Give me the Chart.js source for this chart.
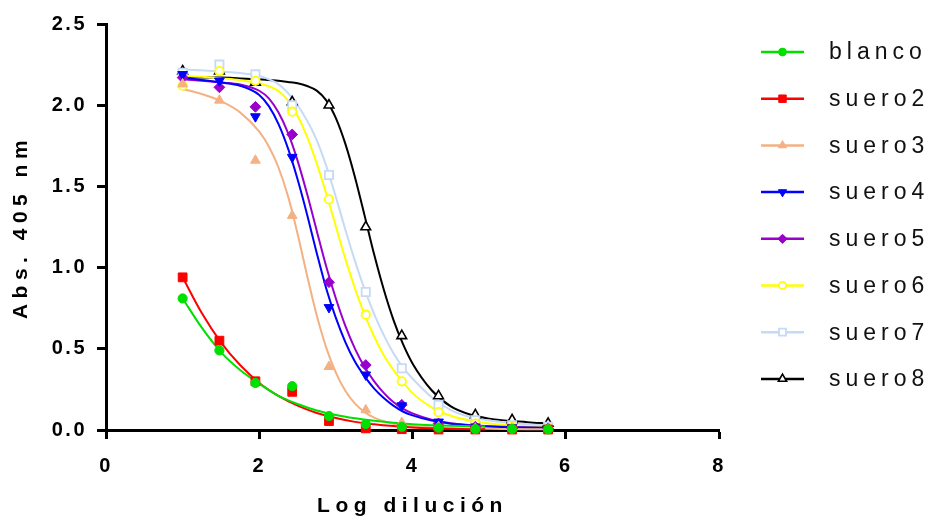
<!DOCTYPE html>
<html>
<head>
<meta charset="utf-8">
<script src="https://cdn.jsdelivr.net/npm/chart.js@4.4.0/dist/chart.umd.min.js"></script>
<style>
    html, body { margin: 0; padding: 0; background: #fff; }
</style>
</head>
<body>
<canvas id="grafico" width="928" height="522"></canvas>
<script>
// Datos medidos (puntos)
const logDilucion = [1.0, 1.48, 1.95, 2.43, 2.91, 3.39, 3.86, 4.34, 4.82, 5.30, 5.77];
const blanco = [0.81, 0.49, 0.29, 0.27, 0.086, 0.037, 0.02, 0.014, 0.006, 0.006, 0.004];
const suero2 = [0.94, 0.55, 0.30, 0.235, 0.055, 0.01, 0.005, 0.003, 0.003, 0.003, 0.003];
const suero3 = [2.13, 2.03, 1.66, 1.32, 0.39, 0.123, 0.045, 0.02, 0.01, 0.01, 0.005];
const suero4 = [2.19, 2.15, 1.93, 1.68, 0.755, 0.34, 0.15, 0.05, 0.02, 0.015, 0.01];
const suero5 = [2.17, 2.11, 1.99, 1.82, 0.91, 0.40, 0.155, 0.04, 0.02, 0.01, 0.01];
const suero6 = [2.12, 2.21, 2.15, 1.96, 1.42, 0.71, 0.30, 0.11, 0.04, 0.02, 0.01];
const suero7 = [2.20, 2.25, 2.19, 2.00, 1.57, 0.85, 0.38, 0.155, 0.06, 0.03, 0.02];
const suero8 = [2.21, 2.21, 2.14, 2.02, 2.00, 1.25, 0.58, 0.21, 0.092, 0.062, 0.04];

// Curvas ajustadas
const ajusteX = [1.0, 1.25, 1.5, 1.75, 2.0, 2.125, 2.25, 2.375, 2.5, 2.625, 2.75, 2.875, 3.0, 3.125,
                 3.25, 3.375, 3.5, 3.625, 3.75, 3.875, 4.0, 4.25, 4.5, 4.75, 5.0, 5.5, 5.77];
const ajusteBlancoX = [1.0, 1.25, 1.5, 1.75, 2.0, 2.25, 2.5, 2.75, 3.0, 3.25, 3.5, 3.75, 4.0, 4.25, 4.5, 4.95];
const ajusteBlanco = [0.81, 0.63, 0.48, 0.37, 0.285, 0.21, 0.16, 0.12, 0.092, 0.072, 0.057, 0.045, 0.036, 0.030, 0.026, 0.021];
const ajusteSuero2 = [0.94, 0.72, 0.54, 0.40, 0.29, 0.21, 0.15, 0.105, 0.074, 0.05, 0.035, 0.024, 0.016, 0.011, 0.008, 0.004];
const ajusteSuero3 = [2.10, 2.069, 2.025, 1.956, 1.837, 1.746, 1.618, 1.44, 1.209, 0.95, 0.706, 0.506, 0.353, 0.24,
                      0.162, 0.11, 0.076, 0.054, 0.039, 0.03, 0.024, 0.016, 0.011, 0.008, 0.007, 0.005, 0.005];
const ajusteSuero4 = [2.17, 2.155, 2.14, 2.12, 2.063, 1.994, 1.885, 1.734, 1.544, 1.326, 1.09, 0.87, 0.69, 0.54,
                      0.42, 0.33, 0.255, 0.197, 0.15, 0.114, 0.09, 0.058, 0.039, 0.028, 0.021, 0.015, 0.013];
const ajusteSuero5 = [2.16, 2.15, 2.14, 2.128, 2.089, 2.042, 1.956, 1.829, 1.659, 1.453, 1.227, 1.005, 0.81, 0.64,
                      0.50, 0.388, 0.30, 0.229, 0.172, 0.132, 0.102, 0.064, 0.042, 0.031, 0.023, 0.016, 0.014];
const ajusteSuero6 = [2.18, 2.175, 2.165, 2.154, 2.134, 2.117, 2.087, 2.03, 1.935, 1.805, 1.642, 1.455, 1.253, 1.052,
                      0.871, 0.711, 0.576, 0.461, 0.37, 0.296, 0.227, 0.14, 0.088, 0.058, 0.04, 0.023, 0.019];
const ajusteSuero7 = [2.22, 2.215, 2.207, 2.198, 2.18, 2.16, 2.13, 2.075, 2.00, 1.905, 1.785, 1.625, 1.435, 1.232,
                      1.04, 0.866, 0.714, 0.584, 0.474, 0.386, 0.317, 0.202, 0.123, 0.081, 0.059, 0.035, 0.028];
const ajusteSuero8 = [2.17, 2.17, 2.17, 2.165, 2.16, 2.155, 2.15, 2.143, 2.135, 2.118, 2.09, 2.03, 1.92, 1.76,
                      1.555, 1.32, 1.08, 0.865, 0.68, 0.53, 0.41, 0.245, 0.145, 0.095, 0.07, 0.048, 0.04];

const ticksX = [0, 2, 4, 6, 8];
const ticksY = [0, 0.5, 1.0, 1.5, 2.0, 2.5];

const FUENTE = "'Liberation Sans', Arial, sans-serif";

// Estilo de cada serie
const series = [
    { label: 'blanco', puntos: blanco, ajX: ajusteBlancoX, ajY: ajusteBlanco, color: '#00E000', relleno: '#00E000', estilo: 'circle', radio: 4.6, rot: 0, borde: 1 },
    { label: 'suero2', puntos: suero2, ajX: ajusteBlancoX, ajY: ajusteSuero2, color: '#FF0000', relleno: '#FF0000', estilo: 'rect', radio: 6.2, rot: 0, borde: 1 },
    { label: 'suero3', puntos: suero3, ajX: ajusteX, ajY: ajusteSuero3, color: '#F4B183', relleno: '#F4B183', estilo: 'triangle', radio: 5.6, rot: 0, borde: 1 },
    { label: 'suero4', puntos: suero4, ajX: ajusteX, ajY: ajusteSuero4, color: '#0000FF', relleno: '#0000FF', estilo: 'triangle', radio: 5.6, rot: 180, borde: 1 },
    { label: 'suero5', puntos: suero5, ajX: ajusteX, ajY: ajusteSuero5, color: '#9900CC', relleno: '#9900CC', estilo: 'rectRot', radio: 5.4, rot: 0, borde: 1 },
    { label: 'suero6', puntos: suero6, ajX: ajusteX, ajY: ajusteSuero6, color: '#FFFF00', relleno: '#FFFFFF', estilo: 'circle', radio: 4.2, rot: 0, borde: 1.8 },
    { label: 'suero7', puntos: suero7, ajX: ajusteX, ajY: ajusteSuero7, color: '#C5DAF6', relleno: '#FFFFFF', estilo: 'rect', radio: 5.8, rot: 0, borde: 1.8 },
    { label: 'suero8', puntos: suero8, ajX: ajusteX, ajY: ajusteSuero8, color: '#000000', relleno: '#FFFFFF', estilo: 'triangle', radio: 5.6, rot: 0, borde: 1.6 }
];

const datasets = [];
series.forEach((s, i) => {
    datasets.push({
        label: s.label,
        data: logDilucion.map((x, j) => ({ x, y: s.puntos[j] })),
        showLine: false,
        pointStyle: s.estilo,
        pointRotation: s.rot,
        pointRadius: s.radio,
        pointBackgroundColor: s.relleno,
        pointBorderColor: s.color,
        pointBorderWidth: s.borde,
        clip: false,
        order: i
    });
    datasets.push({
        label: s.label + ' ajuste',
        data: s.ajX.map((x, j) => ({ x, y: s.ajY[j] })),
        showLine: true,
        pointRadius: 0,
        borderColor: s.color,
        borderWidth: 2,
        cubicInterpolationMode: 'monotone',
        clip: false,
        order: 20 + i
    });
});

// Espaciado de letras y leyenda
const leyendaPlugin = {
    id: 'leyenda',
    beforeDraw(chart) {
        chart.ctx.letterSpacing = '5.5px';   // títulos de ejes
    },
    afterDatasetsDraw(chart) {
        chart.ctx.letterSpacing = '2.5px';   // etiquetas de ticks (z = 1)
    },
    afterDraw(chart) {
        const ctx = chart.ctx;
        const area = chart.chartArea;
        const x0 = area.right + 42;
        const y0 = 52;
        const paso = 46.7;
        ctx.save();
        series.forEach((s, i) => {
            const y = y0 + i * paso;
            ctx.strokeStyle = s.color;
            ctx.lineWidth = 2.5;
            ctx.beginPath();
            ctx.moveTo(x0, y);
            ctx.lineTo(x0 + 43, y);
            ctx.stroke();
            ctx.fillStyle = s.relleno;
            ctx.strokeStyle = s.color;
            ctx.lineWidth = s.borde;
            Chart.helpers.drawPoint(ctx, {
                pointStyle: s.estilo,
                rotation: s.rot,
                radius: s.radio * 0.85,
                borderWidth: s.borde
            }, x0 + 21.5, y);
            ctx.letterSpacing = '5px';
            ctx.fillStyle = '#111';
            ctx.font = '23px ' + FUENTE;
            ctx.textAlign = 'left';
            ctx.textBaseline = 'middle';
            ctx.fillText(s.label, x0 + 68, y + 1);
        });
        ctx.restore();
        ctx.letterSpacing = '0px';
    }
};

new Chart(document.getElementById('grafico').getContext('2d'), {
    type: 'scatter',
    data: { datasets },
    options: {
        responsive: false,
        animation: false,
        layout: { padding: { left: 0, top: 24, right: 209, bottom: 0 } },
        plugins: {
            legend: { display: false },
            tooltip: { enabled: false }
        },
        scales: {
            x: {
                type: 'linear',
                min: 0,
                max: 8,
                afterBuildTicks: scale => { scale.ticks = ticksX.map(v => ({ value: v })); },
                afterFit: scale => { scale.height = 92; },
                border: { display: true, color: '#000', width: 3 },
                grid: { drawOnChartArea: false, drawTicks: true, tickLength: 9, tickWidth: 3, color: '#000' },
                ticks: {
                    z: 1,
                    color: '#000',
                    padding: 15,
                    font: { family: FUENTE, size: 20, weight: 'bold' },
                    callback: v => String(v)
                },
                title: {
                    display: true,
                    text: 'Log dilución',
                    color: '#000',
                    font: { family: FUENTE, size: 21, weight: 'bold' },
                    padding: { top: 0, bottom: 3 }
                }
            },
            y: {
                type: 'linear',
                min: 0,
                max: 2.5,
                afterBuildTicks: scale => { scale.ticks = ticksY.map(v => ({ value: v })); },
                afterFit: scale => { scale.width = 106; },
                border: { display: true, color: '#000', width: 3 },
                grid: { drawOnChartArea: false, drawTicks: true, tickLength: 9, tickWidth: 3, color: '#000' },
                ticks: {
                    z: 1,
                    color: '#000',
                    padding: 10,
                    font: { family: FUENTE, size: 20, weight: 'bold' },
                    callback: v => v.toFixed(1)
                },
                title: {
                    display: true,
                    text: 'Abs. 405 nm',
                    color: '#000',
                    font: { family: FUENTE, size: 21, weight: 'bold' },
                    padding: { top: 9, bottom: 0 }
                }
            }
        }
    },
    plugins: [leyendaPlugin]
});
</script>
</body>
</html>
